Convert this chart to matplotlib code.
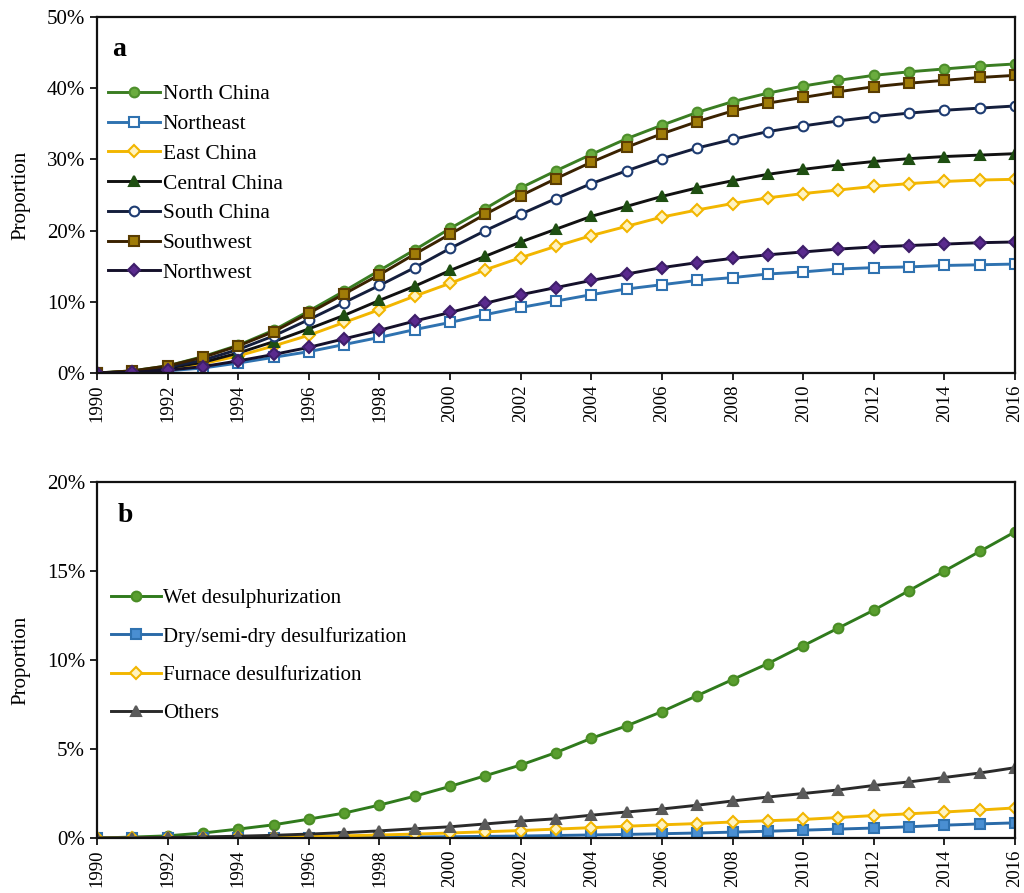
import matplotlib.pyplot as plt
from matplotlib.ticker import FuncFormatter, MultipleLocator

years = list(range(1990, 2017))

# panel a: regional proportions (%)
north_china = [0, 0.3, 1.0, 2.3, 3.9, 6.0, 8.7, 11.5, 14.4, 17.3, 20.3, 23.1, 26.0, 28.4,
               30.7, 32.9, 34.8, 36.6, 38.1, 39.3, 40.3, 41.1, 41.8, 42.3, 42.7, 43.1, 43.4]
northeast = [0, 0.1, 0.3, 0.7, 1.4, 2.2, 3.0, 4.0, 5.0, 6.1, 7.1, 8.2, 9.2, 10.1,
             11.0, 11.8, 12.4, 13.0, 13.4, 13.9, 14.2, 14.6, 14.8, 14.9, 15.1, 15.2, 15.3]
east_china = [0, 0.2, 0.6, 1.3, 2.4, 3.8, 5.3, 7.1, 8.9, 10.8, 12.6, 14.5, 16.2, 17.8,
              19.3, 20.6, 21.9, 22.9, 23.8, 24.6, 25.2, 25.7, 26.2, 26.6, 26.9, 27.1, 27.2]
central_china = [0, 0.2, 0.7, 1.5, 2.8, 4.4, 6.2, 8.1, 10.2, 12.2, 14.4, 16.4, 18.4, 20.2,
                 22.0, 23.4, 24.8, 26.0, 27.0, 27.9, 28.6, 29.2, 29.7, 30.1, 30.4, 30.6, 30.8]
south_china = [0, 0.2, 0.8, 1.8, 3.3, 5.2, 7.5, 9.9, 12.3, 14.8, 17.5, 20.0, 22.3, 24.5,
               26.6, 28.4, 30.1, 31.6, 32.8, 33.9, 34.7, 35.4, 36.0, 36.5, 36.9, 37.2, 37.5]
southwest = [0, 0.3, 1.0, 2.2, 3.8, 5.8, 8.4, 11.1, 13.8, 16.7, 19.5, 22.3, 24.9, 27.3,
             29.6, 31.7, 33.6, 35.3, 36.8, 37.9, 38.7, 39.5, 40.2, 40.7, 41.1, 41.5, 41.8]
northwest = [0, 0.1, 0.4, 0.9, 1.7, 2.6, 3.6, 4.8, 6.0, 7.3, 8.5, 9.8, 11.0, 12.0,
             13.0, 13.9, 14.8, 15.5, 16.1, 16.6, 17.0, 17.4, 17.7, 17.9, 18.1, 18.3, 18.4]

# panel b: desulfurization technologies (%)
wet = [0, 0.05, 0.12, 0.28, 0.5, 0.74, 1.06, 1.4, 1.85, 2.35, 2.9, 3.5, 4.1, 4.8,
       5.6, 6.3, 7.1, 8.0, 8.9, 9.8, 10.8, 11.8, 12.8, 13.9, 15.0, 16.1, 17.2]
dry = [0, 0, 0, 0, 0.01, 0.01, 0.02, 0.03, 0.04, 0.05, 0.07, 0.09, 0.11, 0.14,
       0.17, 0.2, 0.24, 0.28, 0.33, 0.38, 0.44, 0.5, 0.56, 0.63, 0.72, 0.79, 0.85]
furnace = [0, 0, 0.01, 0.02, 0.03, 0.05, 0.08, 0.12, 0.17, 0.22, 0.28, 0.35, 0.42, 0.5,
           0.58, 0.66, 0.74, 0.81, 0.9, 0.97, 1.04, 1.15, 1.26, 1.36, 1.46, 1.57, 1.69]
others = [0, 0.01, 0.03, 0.06, 0.1, 0.15, 0.22, 0.3, 0.4, 0.52, 0.63, 0.79, 0.95, 1.08,
          1.28, 1.46, 1.63, 1.84, 2.08, 2.3, 2.5, 2.7, 2.95, 3.15, 3.4, 3.65, 3.95]

plt.rcParams['font.family'] = ['Liberation Serif', 'DejaVu Serif']

fig = plt.figure(figsize=(10.24, 8.93), dpi=100)
ax1 = fig.add_axes([0.0947, 0.5823, 0.8965, 0.3987])
ax2 = fig.add_axes([0.0947, 0.0616, 0.8965, 0.3986])

lw = 2.1
ms = 7

# (label, values, line colour, marker, face colour, edge colour)
series_a = [
    ("North China", north_china, "#3a7d22", "o", "#6aac3e", "#4e8f2c"),
    ("Northeast", northeast, "#2f72b0", "s", "white", "#2f72b0"),
    ("East China", east_china, "#f2b600", "D", "#fff3c0", "#f2b600"),
    ("Central China", central_china, "#111111", "^", "#1f4f12", "#1f4f12"),
    ("South China", south_china, "#141e3c", "o", "white", "#1e3c72"),
    ("Southwest", southwest, "#3a2200", "s", "#a07c08", "#5a3d02"),
    ("Northwest", northwest, "#14102a", "D", "#5a2a8e", "#3e1e6a"),
]
for label, vals, lc, mk, fc, ec in series_a:
    ax1.plot(years, vals, color=lc, lw=lw, marker=mk, ms=ms if mk != "D" else ms - 1,
             mfc=fc, mec=ec, mew=1.5, label=label)

series_b = [
    ("Wet desulphurization", wet, "#2f7a1c", "o", "#5a9e2f", "#4a8d25"),
    ("Dry/semi-dry desulfurization", dry, "#2a6aa8", "s", "#4a8fd2", "#2f72b0"),
    ("Furnace desulfurization", furnace, "#f2b600", "D", "#fff3c0", "#f2b600"),
    ("Others", others, "#2a2a2a", "^", "#5a5a5a", "#5a5a5a"),
]
for label, vals, lc, mk, fc, ec in series_b:
    ax2.plot(years, vals, color=lc, lw=lw, marker=mk, ms=ms if mk != "D" else ms - 1,
             mfc=fc, mec=ec, mew=1.5, label=label)

pct = FuncFormatter(lambda v, _: "{:.0f}%".format(v))
for ax, top, step in [(ax1, 50, 10), (ax2, 20, 5)]:
    ax.set_xlim(1990, 2016)
    ax.set_ylim(0, top)
    ax.xaxis.set_major_locator(MultipleLocator(2))
    ax.yaxis.set_major_locator(MultipleLocator(step))
    ax.yaxis.set_major_formatter(pct)
    ax.tick_params(axis="x", labelrotation=90, labelsize=13.5, length=5, width=1.2, direction="out")
    ax.tick_params(axis="y", labelsize=15, length=5, width=1.2, direction="out")
    ax.set_ylabel("Proportion", fontsize=15, labelpad=12)
    for sp in ax.spines.values():
        sp.set_linewidth(1.6)
        sp.set_color("#111111")
    for lbl in ax.get_xticklabels():
        lbl.set_verticalalignment("top")

ax1.text(0.017, 0.91, "a", transform=ax1.transAxes, fontsize=20, fontweight="bold",
         va="center", ha="left")
ax2.text(0.023, 0.905, "b", transform=ax2.transAxes, fontsize=20, fontweight="bold",
         va="center", ha="left")

ax1.legend(loc="upper left", bbox_to_anchor=(0.003, 0.835), frameon=False, fontsize=15.5,
           handlelength=2.4, handletextpad=0.12, labelspacing=0.45, borderaxespad=0)
ax2.legend(loc="upper left", bbox_to_anchor=(0.006, 0.725), frameon=False, fontsize=15,
           handlelength=2.4, handletextpad=0.12, labelspacing=0.9, borderaxespad=0)

fig.savefig("out.png", dpi=100)
